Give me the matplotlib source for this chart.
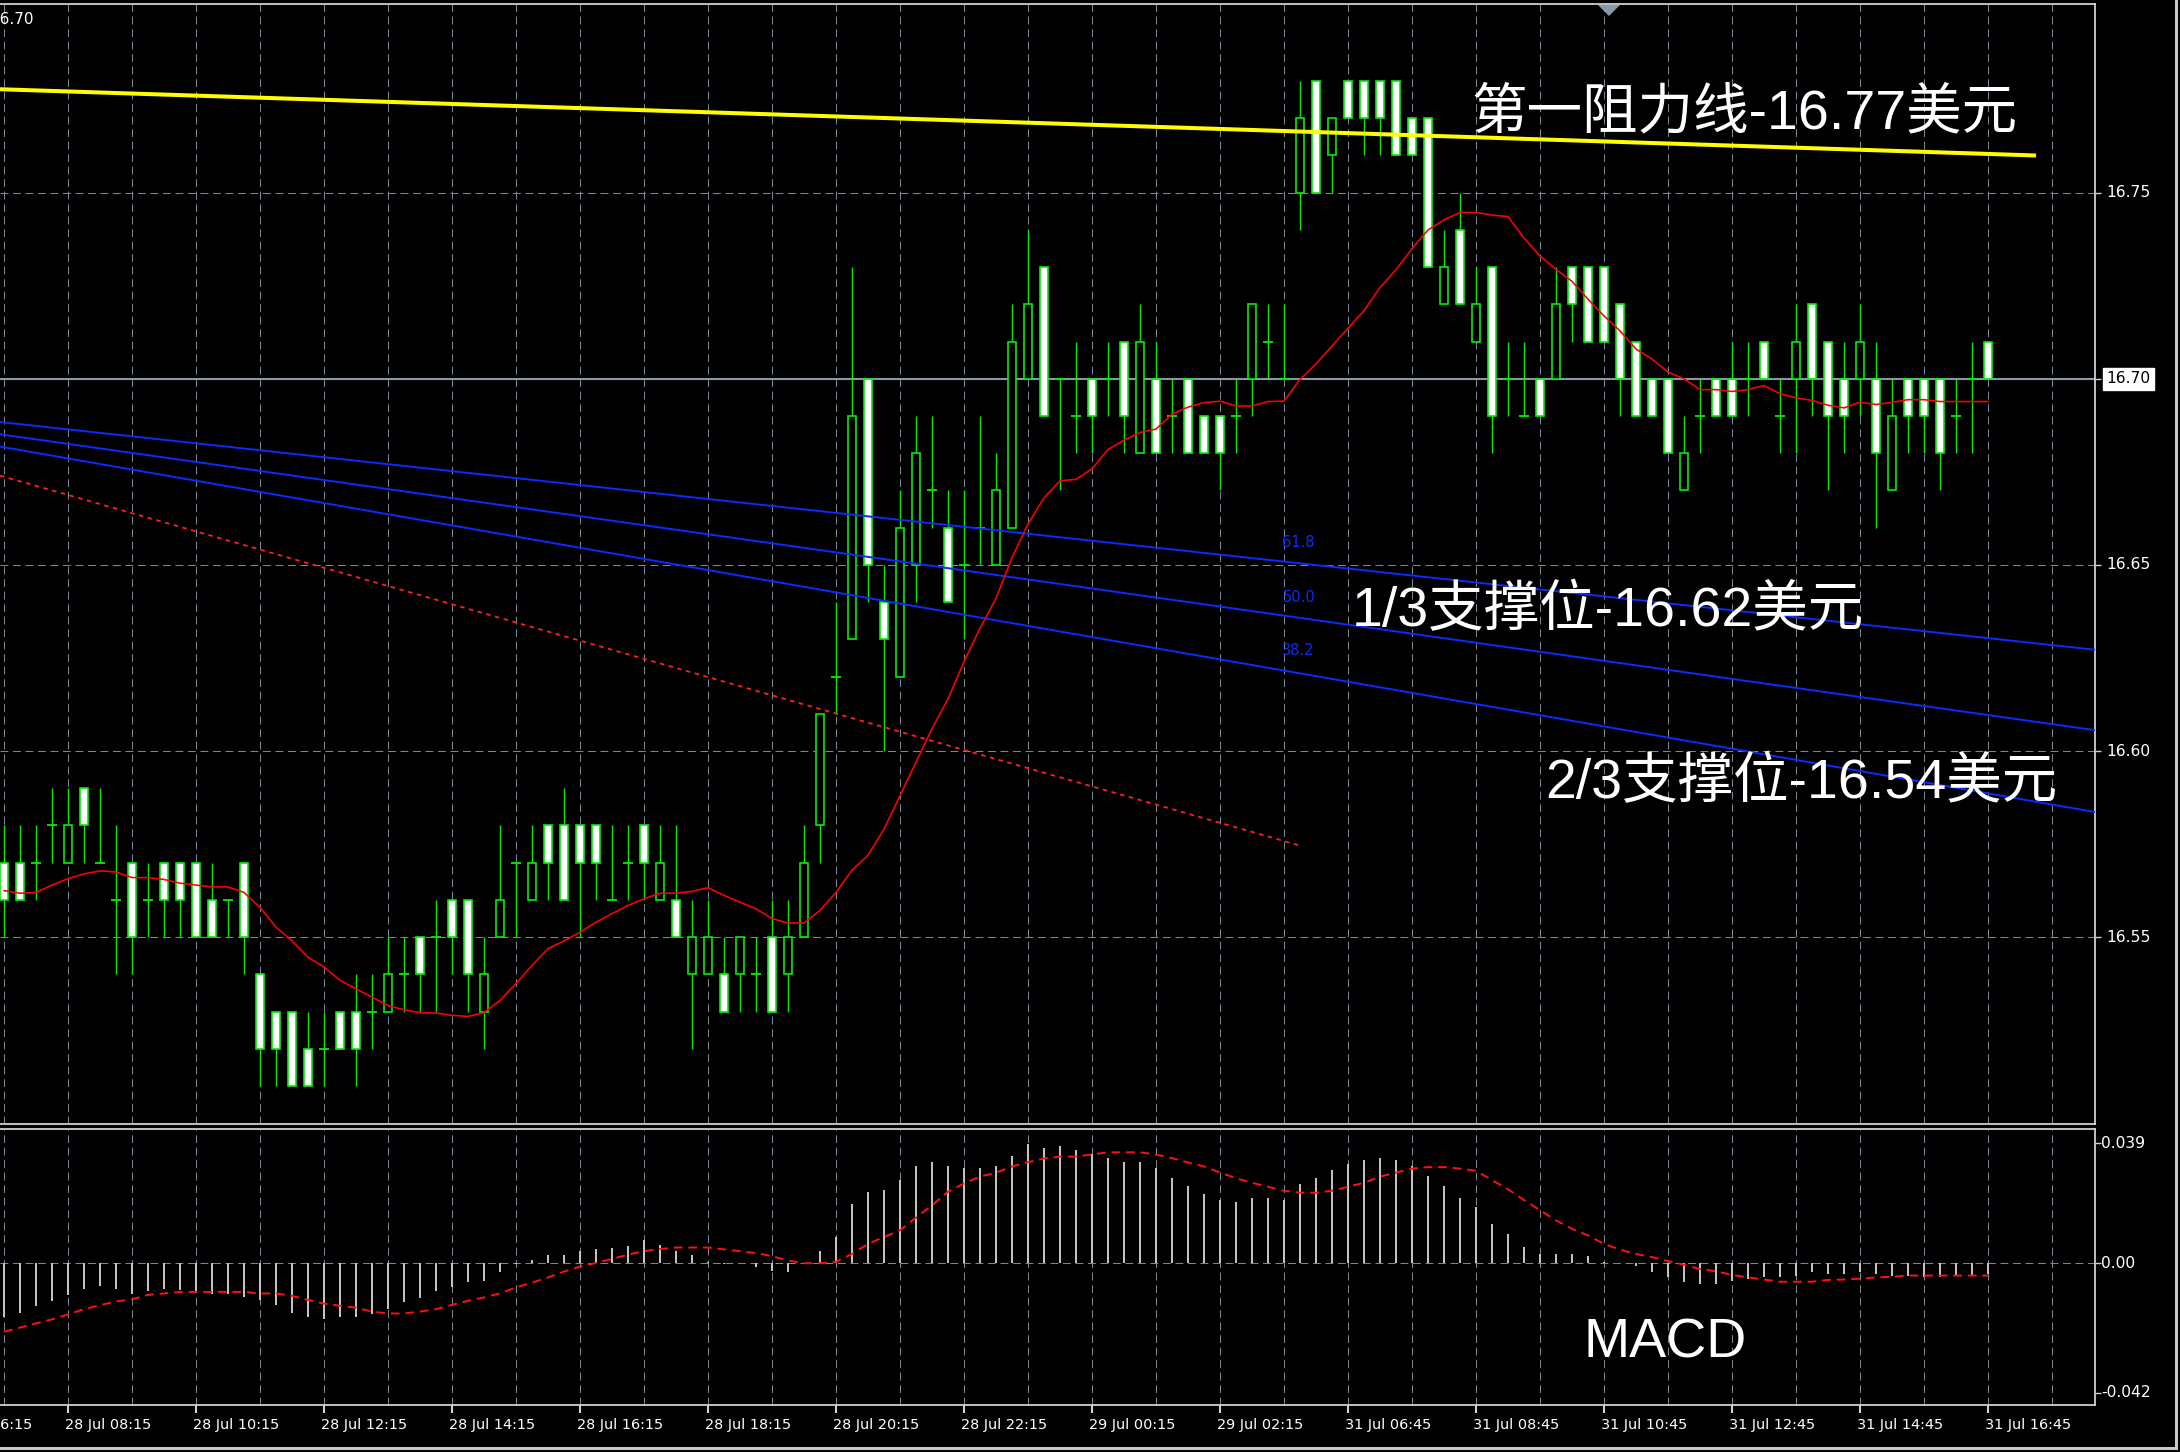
import numpy as np
import matplotlib
matplotlib.use("Agg")
import matplotlib.pyplot as plt
from matplotlib import font_manager
from matplotlib.lines import Line2D
from matplotlib.patches import Polygon
from matplotlib.transforms import blended_transform_factory, offset_copy

W, H, DPI = 2180, 1452, 100

# ---------------- data: XAGUSD M15 ----------------
opens = [16.57, 16.57, 16.57, 16.58, 16.57, 16.59, 16.57, 16.56, 16.57, 16.56,
         16.57, 16.57, 16.57, 16.56, 16.56, 16.57, 16.54, 16.53, 16.53, 16.52,
         16.52, 16.53, 16.53, 16.53, 16.53, 16.54, 16.55, 16.55, 16.56, 16.56,
         16.53, 16.55, 16.57, 16.56, 16.58, 16.58, 16.58, 16.58, 16.56, 16.57,
         16.58, 16.56, 16.56, 16.54, 16.54, 16.54, 16.54, 16.54, 16.55, 16.54,
         16.55, 16.58, 16.62, 16.63, 16.70, 16.64, 16.62, 16.65, 16.67, 16.66,
         16.65, 16.66, 16.65, 16.66, 16.70, 16.73, 16.70, 16.69, 16.70, 16.70,
         16.71, 16.68, 16.70, 16.69, 16.70, 16.69, 16.69, 16.69, 16.70, 16.71,
         16.70, 16.75, 16.78, 16.76, 16.78, 16.78, 16.78, 16.78, 16.77, 16.77,
         16.72, 16.74, 16.71, 16.73, 16.70, 16.69, 16.70, 16.70, 16.73, 16.73,
         16.73, 16.72, 16.71, 16.70, 16.70, 16.67, 16.69, 16.70, 16.70, 16.70,
         16.71, 16.69, 16.70, 16.72, 16.71, 16.70, 16.70, 16.70, 16.67, 16.70,
         16.70, 16.70, 16.69, 16.70, 16.71]
highs = [16.58, 16.58, 16.58, 16.59, 16.59, 16.59, 16.59, 16.58, 16.57, 16.57,
         16.57, 16.57, 16.57, 16.57, 16.56, 16.57, 16.54, 16.53, 16.53, 16.53,
         16.53, 16.53, 16.54, 16.54, 16.55, 16.55, 16.55, 16.56, 16.56, 16.56,
         16.55, 16.58, 16.57, 16.58, 16.58, 16.59, 16.58, 16.58, 16.58, 16.58,
         16.58, 16.58, 16.58, 16.56, 16.56, 16.55, 16.55, 16.55, 16.56, 16.56,
         16.58, 16.61, 16.64, 16.73, 16.70, 16.65, 16.67, 16.69, 16.69, 16.67,
         16.67, 16.69, 16.68, 16.72, 16.74, 16.73, 16.70, 16.71, 16.70, 16.71,
         16.71, 16.72, 16.71, 16.70, 16.70, 16.69, 16.69, 16.70, 16.72, 16.72,
         16.72, 16.78, 16.78, 16.77, 16.78, 16.78, 16.78, 16.78, 16.77, 16.77,
         16.74, 16.75, 16.73, 16.73, 16.71, 16.71, 16.70, 16.73, 16.73, 16.73,
         16.73, 16.72, 16.71, 16.70, 16.70, 16.69, 16.70, 16.70, 16.71, 16.71,
         16.71, 16.70, 16.72, 16.72, 16.71, 16.71, 16.72, 16.71, 16.70, 16.70,
         16.70, 16.70, 16.70, 16.71, 16.71]
lows = [16.55, 16.56, 16.56, 16.57, 16.57, 16.57, 16.57, 16.54, 16.54, 16.55,
        16.55, 16.55, 16.55, 16.55, 16.55, 16.54, 16.51, 16.51, 16.51, 16.51,
        16.51, 16.52, 16.51, 16.52, 16.53, 16.53, 16.53, 16.53, 16.54, 16.53,
        16.52, 16.55, 16.55, 16.56, 16.56, 16.56, 16.55, 16.56, 16.56, 16.56,
        16.56, 16.56, 16.55, 16.52, 16.54, 16.53, 16.53, 16.53, 16.53, 16.53,
        16.55, 16.57, 16.61, 16.63, 16.64, 16.60, 16.62, 16.64, 16.66, 16.64,
        16.63, 16.65, 16.65, 16.66, 16.70, 16.69, 16.67, 16.68, 16.68, 16.69,
        16.68, 16.68, 16.68, 16.68, 16.68, 16.68, 16.67, 16.68, 16.69, 16.70,
        16.70, 16.74, 16.75, 16.75, 16.77, 16.76, 16.76, 16.76, 16.76, 16.73,
        16.72, 16.72, 16.71, 16.68, 16.69, 16.69, 16.69, 16.70, 16.71, 16.71,
        16.71, 16.69, 16.69, 16.69, 16.68, 16.67, 16.68, 16.69, 16.69, 16.69,
        16.70, 16.68, 16.68, 16.69, 16.67, 16.68, 16.69, 16.66, 16.67, 16.68,
        16.68, 16.67, 16.68, 16.68, 16.70]
closes = [16.56, 16.56, 16.57, 16.58, 16.58, 16.58, 16.57, 16.56, 16.55, 16.56,
          16.56, 16.56, 16.55, 16.55, 16.56, 16.55, 16.52, 16.52, 16.51, 16.51,
          16.52, 16.52, 16.52, 16.53, 16.54, 16.54, 16.54, 16.55, 16.55, 16.54,
          16.54, 16.56, 16.57, 16.57, 16.57, 16.56, 16.57, 16.57, 16.56, 16.57,
          16.57, 16.57, 16.55, 16.55, 16.55, 16.53, 16.55, 16.54, 16.53, 16.55,
          16.57, 16.61, 16.62, 16.69, 16.65, 16.63, 16.66, 16.68, 16.67, 16.64,
          16.65, 16.66, 16.67, 16.71, 16.72, 16.69, 16.70, 16.69, 16.69, 16.70,
          16.69, 16.71, 16.68, 16.69, 16.68, 16.68, 16.68, 16.69, 16.72, 16.71,
          16.70, 16.77, 16.75, 16.77, 16.77, 16.77, 16.77, 16.76, 16.76, 16.73,
          16.73, 16.72, 16.72, 16.69, 16.70, 16.69, 16.69, 16.72, 16.72, 16.71,
          16.71, 16.70, 16.69, 16.69, 16.68, 16.68, 16.69, 16.69, 16.69, 16.70,
          16.70, 16.69, 16.71, 16.70, 16.69, 16.69, 16.71, 16.68, 16.69, 16.69,
          16.69, 16.68, 16.69, 16.70, 16.70]

# moving average drawn over the candles
ma_values = [16.5625, 16.5618, 16.5620, 16.5640, 16.5657, 16.5670, 16.5678, 16.5675, 16.5660, 16.5660,
             16.5655, 16.5645, 16.5640, 16.5635, 16.5635, 16.5620, 16.5580, 16.5527, 16.5490, 16.5446,
             16.5420, 16.5384, 16.5361, 16.5339, 16.5316, 16.5305, 16.5297, 16.5296, 16.5290, 16.5287,
             16.5297, 16.5330, 16.5375, 16.5424, 16.5469, 16.5490, 16.5513, 16.5540, 16.5563, 16.5585,
             16.5603, 16.5618, 16.5618, 16.5623, 16.5633, 16.5612, 16.5594, 16.5576, 16.5550, 16.5538,
             16.5538, 16.5572, 16.5620, 16.5680, 16.5720, 16.5790, 16.5880, 16.5970, 16.6060, 16.6140,
             16.6240, 16.6330, 16.6410, 16.6520, 16.6610, 16.6680, 16.6726, 16.6730, 16.6758, 16.6810,
             16.6835, 16.6856, 16.6865, 16.6905, 16.6924, 16.6936, 16.6940, 16.6927, 16.6927, 16.6939,
             16.6940, 16.6998, 16.7040, 16.7088, 16.7136, 16.7183, 16.7245, 16.7293, 16.7350, 16.7400,
             16.7427, 16.7447, 16.7447, 16.7440, 16.7436, 16.7378, 16.7330, 16.7294, 16.7262, 16.7214,
             16.7169, 16.7129, 16.7080, 16.7053, 16.7018, 16.7000, 16.6971, 16.6971, 16.6966, 16.6971,
             16.6982, 16.6960, 16.6949, 16.6942, 16.6929, 16.6922, 16.6937, 16.6931, 16.6937, 16.6944,
             16.6944, 16.6939, 16.6939, 16.6939, 16.6939]

# MACD main (histogram) and signal line
macd_hist = [-0.0176, -0.0160, -0.0140, -0.0122, -0.0102, -0.0082, -0.0075, -0.0082, -0.0100, -0.0089,
             -0.0084, -0.0087, -0.0097, -0.0100, -0.0100, -0.0111, -0.0120, -0.0135, -0.0160, -0.0174,
             -0.0180, -0.0174, -0.0174, -0.0166, -0.0149, -0.0127, -0.0114, -0.0089, -0.0078, -0.0062,
             -0.0057, -0.0029, -0.0004, 0.0009, 0.0028, 0.0028, 0.0041, 0.0047, 0.0049, 0.0056,
             0.0074, 0.0060, 0.0041, 0.0028, 0.0003, -0.0002, 0.0001, -0.0013, -0.0024, -0.0029,
             0.0000, 0.0041, 0.0085, 0.0192, 0.0232, 0.0237, 0.0270, 0.0316, 0.0329, 0.0316,
             0.0309, 0.0309, 0.0316, 0.0349, 0.0388, 0.0375, 0.0381, 0.0368, 0.0355, 0.0342,
             0.0329, 0.0329, 0.0309, 0.0277, 0.0250, 0.0224, 0.0205, 0.0198, 0.0211, 0.0211,
             0.0205, 0.0257, 0.0277, 0.0303, 0.0322, 0.0336, 0.0342, 0.0336, 0.0315, 0.0283,
             0.0251, 0.0212, 0.0183, 0.0126, 0.0094, 0.0054, 0.0030, 0.0030, 0.0030, 0.0022,
             0.0003, 0.0000, -0.0008, -0.0029, -0.0046, -0.0062, -0.0068, -0.0068, -0.0057, -0.0051,
             -0.0046, -0.0046, -0.0040, -0.0029, -0.0035, -0.0035, -0.0029, -0.0035, -0.0040, -0.0040,
             -0.0046, -0.0046, -0.0040, -0.0040, -0.0035]
macd_signal = [-0.0222, -0.0209, -0.0195, -0.0182, -0.0166, -0.0149, -0.0136, -0.0124, -0.0117, -0.0103,
               -0.0098, -0.0093, -0.0093, -0.0093, -0.0093, -0.0093, -0.0098, -0.0098, -0.0106, -0.0119,
               -0.0131, -0.0138, -0.0144, -0.0157, -0.0163, -0.0163, -0.0157, -0.0149, -0.0135, -0.0122,
               -0.0111, -0.0098, -0.0078, -0.0063, -0.0046, -0.0027, -0.0011, 0.0001, 0.0014, 0.0028,
               0.0039, 0.0046, 0.0051, 0.0051, 0.0051, 0.0045, 0.0039, 0.0033, 0.0023, 0.0009,
               0.0000, 0.0000, 0.0005, 0.0030, 0.0063, 0.0085, 0.0107, 0.0148, 0.0188, 0.0232,
               0.0259, 0.0281, 0.0294, 0.0314, 0.0328, 0.0340, 0.0346, 0.0346, 0.0353, 0.0360,
               0.0360, 0.0360, 0.0353, 0.0341, 0.0327, 0.0314, 0.0294, 0.0276, 0.0261, 0.0248,
               0.0235, 0.0229, 0.0229, 0.0235, 0.0248, 0.0261, 0.0281, 0.0294, 0.0307, 0.0312,
               0.0312, 0.0307, 0.0300, 0.0270, 0.0240, 0.0205, 0.0172, 0.0139, 0.0112, 0.0090,
               0.0063, 0.0044, 0.0030, 0.0020, 0.0007, -0.0005, -0.0019, -0.0026, -0.0038, -0.0046,
               -0.0053, -0.0060, -0.0060, -0.0060, -0.0054, -0.0053, -0.0050, -0.0046, -0.0044, -0.0040,
               -0.0040, -0.0040, -0.0040, -0.0040, -0.0040]

# time axis (bar index -> label)
tick_positions = [-4, 4, 12, 20, 28, 36, 44, 52, 60, 68, 76, 84, 92, 100, 108, 116, 124]
tick_labels = ["28 Jul 06:15", "28 Jul 08:15", "28 Jul 10:15", "28 Jul 12:15", "28 Jul 14:15",
               "28 Jul 16:15", "28 Jul 18:15", "28 Jul 20:15", "28 Jul 22:15", "29 Jul 00:15",
               "29 Jul 02:15", "31 Jul 06:45", "31 Jul 08:45", "31 Jul 10:45", "31 Jul 12:45",
               "31 Jul 14:45", "31 Jul 16:45"]
price_levels = [16.55, 16.60, 16.65, 16.70, 16.75]
price_labels = ["16.55", "16.60", "16.65", "16.70", "16.75"]
current_price = 16.70
macd_levels = [0.039, 0.00, -0.042]
macd_labels = ["0.039", "0.00", "-0.042"]

# drawn objects (bar index, price)
resistance_x = [-0.25, 127.0]
resistance_y = [16.7778, 16.7600]
fan_x = [-0.25, 130.7]
fan_618 = [16.6884, 16.6272]
fan_500 = [16.6851, 16.6056]
fan_382 = [16.6818, 16.5836]
fan_names = ["61.8", "50.0", "38.2"]
fan_label_x = 79.9
fan_label_y = [16.6559, 16.6412, 16.6270]
trend_x = [-0.25, 81.0]
trend_y = [16.6740, 16.5746]

# ---------------- styling ----------------
GREEN = "#00f000"
GRID = "#778899"
FRAME = "#d0d0d0"
FIB_BLUE = "#0a2cff"

available = {f.name for f in font_manager.fontManager.ttflist}
if "Liberation Sans Narrow" in available:
    AXIS_FONT, XLAB_SIZE, FIB_SIZE = "Liberation Sans Narrow", 13.0, 13.0
else:
    AXIS_FONT, XLAB_SIZE, FIB_SIZE = "DejaVu Sans", 10.4, 10.5
ANNOT_FONT = ["Liberation Sans", "Noto Sans CJK SC", "DejaVu Sans"]

fig = plt.figure(figsize=(W / DPI, H / DPI), dpi=DPI, facecolor="black")


def frac_box(left, top, right, bottom):
    return [left / W, 1 - bottom / H, (right - left) / W, (bottom - top) / H]


ax = fig.add_axes(frac_box(0, 4, 2095, 1124))
axm = fig.add_axes(frac_box(0, 1129, 2095, 1405), sharex=ax)

XLIM = (-0.25, 130.6875)
for a in (ax, axm):
    a.set_facecolor("black")
    a.set_xlim(*XLIM)
    for side in ("top", "bottom", "right"):
        a.spines[side].set_color(FRAME)
        a.spines[side].set_linewidth(1.3)
    a.spines["left"].set_visible(False)
    a.yaxis.set_ticks_position("right")
    a.tick_params(axis="y", length=4, width=1, color=FRAME, labelright=False, labelleft=False)
    a.tick_params(axis="x", length=0, labelbottom=False)

ax.set_ylim(16.4998, 16.8007)
axm.set_ylim(-0.0460, 0.04356)

# grid
grid_kw = dict(color=GRID, lw=0.75, dashes=(7.5, 4.5), zorder=1)
for gx in range(0, 131, 4):
    ax.axvline(gx, **grid_kw)
    axm.axvline(gx, **grid_kw)
for lvl in price_levels:
    if lvl != current_price:
        ax.axhline(lvl, **grid_kw)
axm.axhline(0.0, **grid_kw)
ax.axhline(current_price, color="#8a98a8", lw=1.5, zorder=2)

# candles
idx = np.arange(len(opens))
o, h, l, c = (np.array(v) for v in (opens, highs, lows, closes))
ax.vlines(idx, l, h, color=GREEN, lw=1.0, zorder=3)
bull = c > o + 1e-9
bear = c < o - 1e-9
doji = ~(bull | bear)
ax.bar(idx[bull], (c - o)[bull], bottom=o[bull], width=0.48, facecolor="black",
       edgecolor=GREEN, linewidth=1.2, zorder=4)
ax.bar(idx[bear], (o - c)[bear], bottom=c[bear], width=0.48, facecolor="white",
       edgecolor=GREEN, linewidth=1.2, zorder=4)
ax.hlines(o[doji], idx[doji] - 0.3, idx[doji] + 0.3, color=GREEN, lw=1.3, zorder=4)

# drawn objects
ax.plot(trend_x, trend_y, color="#ff2020", lw=1.3, dashes=(2.5, 2.5), zorder=5)
for fy in (fan_618, fan_500, fan_382):
    ax.plot(fan_x, fy, color=FIB_BLUE, lw=1.4, zorder=5)
for name, fy in zip(fan_names, fan_label_y):
    ax.text(fan_label_x, fy, name, color=FIB_BLUE, fontsize=FIB_SIZE, family=AXIS_FONT,
            va="center", ha="left", zorder=6)
ax.plot(resistance_x, resistance_y, color="#ffff00", lw=2.9, zorder=6,
        solid_capstyle="butt")
ax.plot(idx, ma_values, color="#ff0000", lw=1.15, zorder=7)

# MACD panel
axm.vlines(idx, 0, macd_hist, color="#c8c8c8", lw=1.4, zorder=3)
axm.plot(idx, macd_signal, color="#ff1010", lw=1.4, dashes=(4.5, 3.0), zorder=4)

# right-hand price scale
ax.set_yticks(price_levels)
ytr = offset_copy(blended_transform_factory(ax.transAxes, ax.transData), fig=fig, x=11, y=0, units="dots")
for lvl, txt in zip(price_levels, price_labels):
    kw = dict(color="white")
    if lvl == current_price:
        kw = dict(color="black", bbox=dict(boxstyle="square,pad=0.22", fc="white", ec="white"))
    ax.text(1.0, lvl, txt, transform=ytr, fontsize=11.2, family="DejaVu Sans",
            va="center", ha="left", clip_on=False, **kw)

axm.set_yticks(macd_levels)
mtr = offset_copy(blended_transform_factory(axm.transAxes, axm.transData), fig=fig, x=6, y=0, units="dots")
for lvl, txt in zip(macd_levels, macd_labels):
    axm.text(1.0, lvl, txt, transform=mtr, fontsize=11.2, family="DejaVu Sans",
             color="white", va="center", ha="left", clip_on=False)

# time scale: labels start at their tick; the first one runs off the left edge
axm.set_xticks([p for p in tick_positions if p >= 0])
axm.tick_params(axis="x", length=6, width=1.5, color=FRAME, direction="out")
xtr = offset_copy(blended_transform_factory(axm.transData, axm.transAxes), fig=fig, x=-3, y=0, units="dots")
for p, txt in zip(tick_positions, tick_labels):
    if p < 0:
        # partially visible label: right edge sits just left of the next tick
        edge_tr = offset_copy(blended_transform_factory(axm.transData, axm.transAxes),
                              fig=fig, x=-36, y=0, units="dots")
        axm.text(p + 8, -0.073, txt, transform=edge_tr, fontsize=XLAB_SIZE, family=AXIS_FONT,
                 color="white", va="center", ha="right", clip_on=False)
    else:
        axm.text(p, -0.073, txt, transform=xtr, fontsize=XLAB_SIZE, family=AXIS_FONT,
                 color="white", va="center", ha="left", clip_on=False)

# annotations
def fig_text(x, y, s, **kw):
    fig.text(x / W, 1 - y / H, s, **kw)

fig_text(1471, 128, "第一阻力线-16.77美元", color="white", fontsize=40, family=ANNOT_FONT,
         va="baseline", ha="left", zorder=10)
fig_text(1352, 626, "1/3支撑位-16.62美元", color="white", fontsize=40, family=ANNOT_FONT,
         va="baseline", ha="left", zorder=10)
fig_text(1545, 798, "2/3支撑位-16.54美元", color="white", fontsize=40, family=ANNOT_FONT,
         va="baseline", ha="left", zorder=10)
fig_text(1583, 1358, "MACD", color="white", fontsize=40, family=ANNOT_FONT,
         va="baseline", ha="left", zorder=10)
fig_text(34, 20, "16.70", color="white", fontsize=11, family="DejaVu Sans",
         va="center", ha="right")

# shift marker and window border
fig.add_artist(Polygon([[1598 / W, 1 - 5 / H], [1620 / W, 1 - 5 / H], [1609 / W, 1 - 16 / H]],
                       closed=True, transform=fig.transFigure, fc="#8899aa", ec="none"))
fig.add_artist(Line2D([2176 / W, 2176 / W], [1 - 1448 / H, 1], transform=fig.transFigure,
                      color="#c8c8c8", lw=2.2))
fig.add_artist(Line2D([0, 2176 / W], [1 - 1448 / H, 1 - 1448 / H], transform=fig.transFigure,
                      color="#c8c8c8", lw=2.2))

fig.savefig("out.png", dpi=DPI, facecolor="black")
